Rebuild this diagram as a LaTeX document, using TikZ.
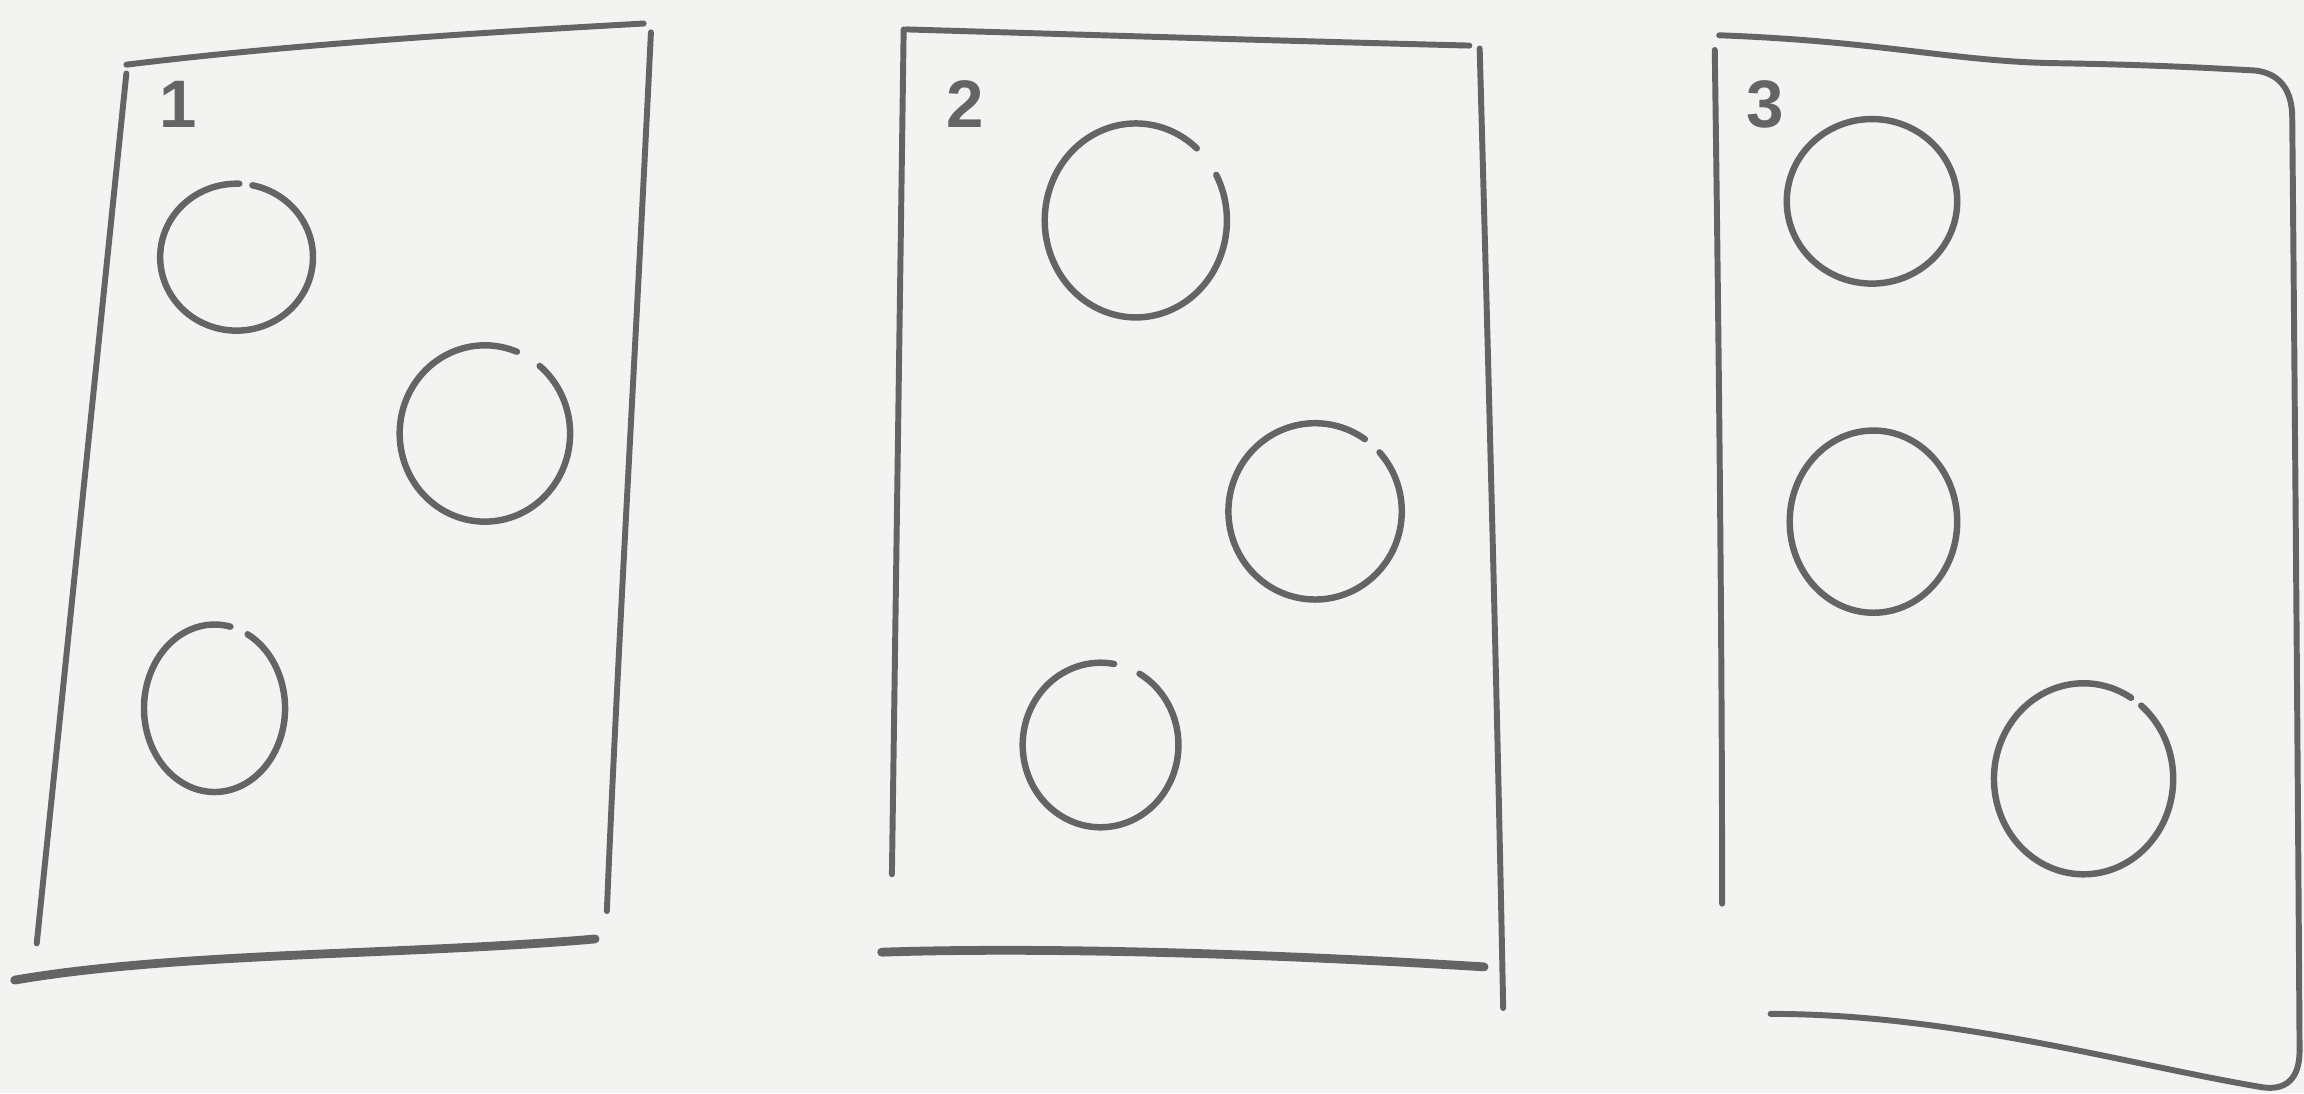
\documentclass[tikz,border=0pt]{standalone}
\usepackage{fontspec}
\setsansfont{Liberation Sans}
\definecolor{paper}{RGB}{243,243,242}
\definecolor{pencil}{RGB}{100,100,100}
\tikzset{
  edge/.style={draw=pencil,line width=1.15pt,line cap=round,line join=round},
  thick edge/.style={draw=pencil,line width=1.7pt,line cap=round},
  ring/.style={draw=pencil,line width=1.25pt,line cap=round},
  cardnum/.style={text=pencil,font=\sffamily\bfseries\fontsize{13}{15}\selectfont,inner sep=0pt}
}
\begin{document}
\begin{tikzpicture}[x=0.01cm,y=-0.01cm]
\useasboundingbox (0,0) rectangle (1568,744);
\fill[paper] (0,0) rectangle (1568,744);

% ---------- Card 1 ----------
\draw[edge] (86,44) .. controls (200,30) and (330,22) .. (438,16);
\draw[edge] (86,50) -- (25,642);
\draw[edge] (443,22) .. controls (432,250) and (420,450) .. (413,620);
\draw[thick edge] (10,667) .. controls (120,648) and (280,650) .. (405,639);
\node[cardnum] (n1) at (121,71) {1};
\draw[ring] (161,175) ++(-78:52 and 50) arc[start angle=-78,end angle=272,x radius=52,y radius=50];
\draw[ring] (330,295) ++(-50:58 and 60) arc[start angle=-50,end angle=292,x radius=58,y radius=60];
\draw[ring] (146,482) ++(-62:48 and 57) arc[start angle=-62,end angle=283,x radius=48,y radius=57];

% ---------- Card 2 ----------
\draw[edge] (617,20) .. controls (750,24) and (880,28) .. (1000,31);
\draw[edge] (615,20) -- (607,595);
\draw[edge] (1007,33) .. controls (1013,250) and (1019,480) .. (1023,686);
\draw[thick edge] (600,648) .. controls (720,644) and (880,650) .. (1010,658);
\node[cardnum] (n2) at (657,71) {2};
\draw[ring] (773,150) ++(-28:62 and 66) arc[start angle=-28,end angle=312,x radius=62,y radius=66];
\draw[ring] (895,348) ++(-42:59 and 60) arc[start angle=-42,end angle=305,x radius=59,y radius=60];
\draw[ring] (749,507) ++(-60:53 and 56) arc[start angle=-60,end angle=280,x radius=53,y radius=56];

% ---------- Card 3 ----------
\draw[edge] (1170,24) .. controls (1280,28) and (1330,42) .. (1400,43)
  .. controls (1460,44) and (1500,46) .. (1535,48)
  .. controls (1552,50) and (1560,62) .. (1560,80)
  .. controls (1562,300) and (1564,550) .. (1565,715)
  .. controls (1565,735) and (1555,742) .. (1540,740)
  .. controls (1450,725) and (1330,690) .. (1205,690);
\draw[edge] (1167,34) .. controls (1170,250) and (1172,450) .. (1172,615);
\node[cardnum] (n3) at (1201,71) {3};
\draw[ring] (1274,137) ellipse[x radius=58,y radius=56];
\draw[ring] (1275,355) ellipse[x radius=57,y radius=62];
\draw[ring] (1418,530) ++(-50:61 and 65) arc[start angle=-50,end angle=302,x radius=61,y radius=65];
\end{tikzpicture}
\end{document}
